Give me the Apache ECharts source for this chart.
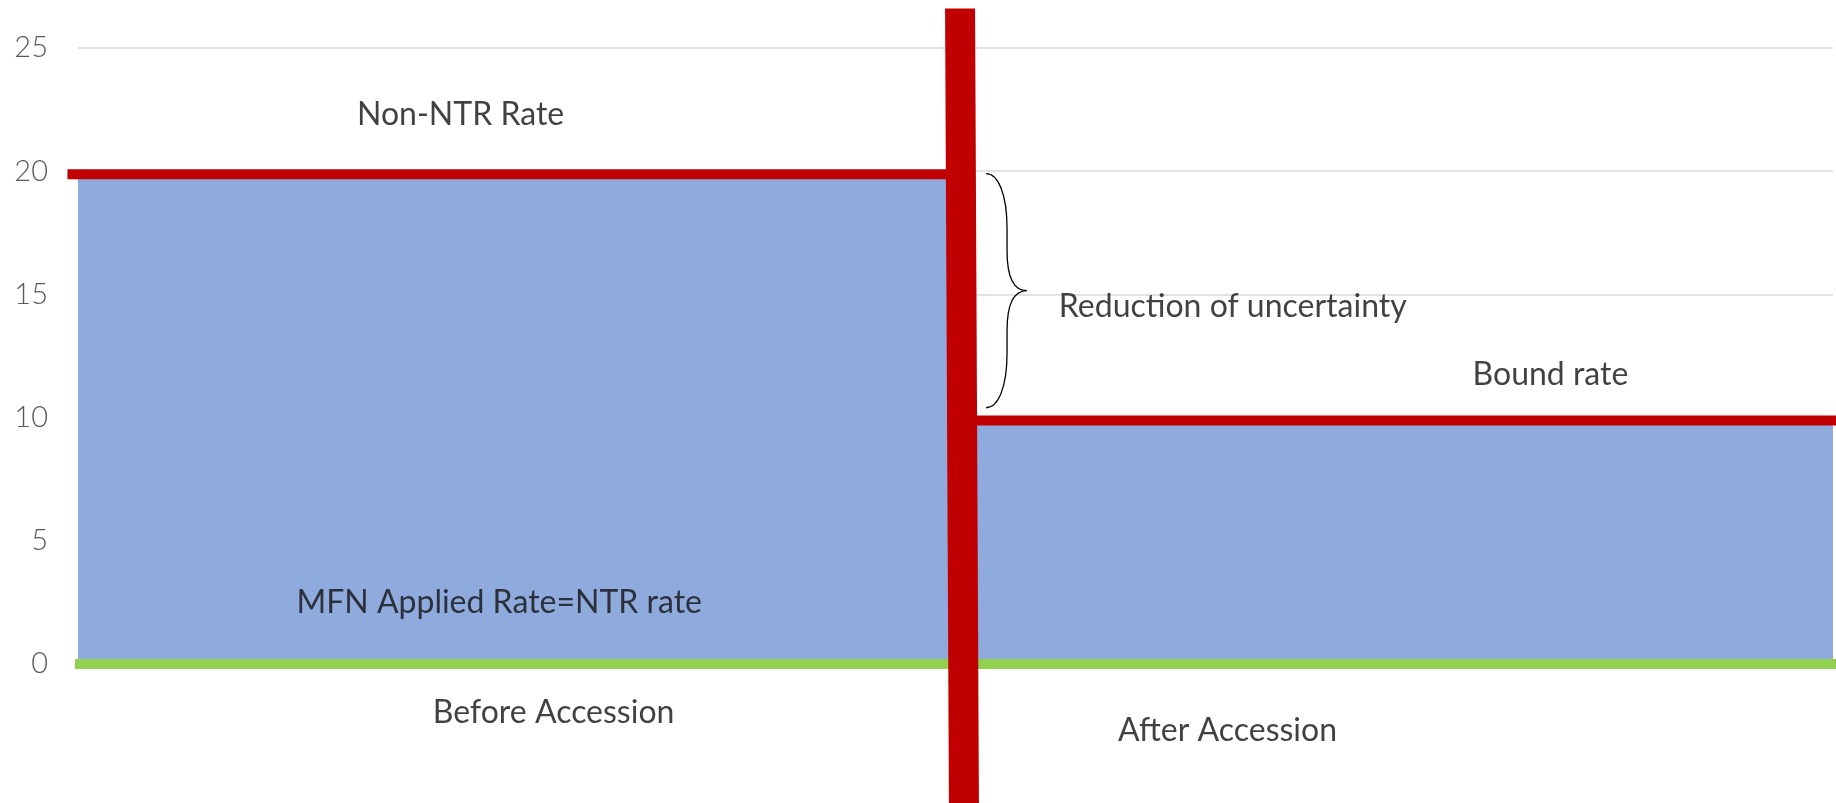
<!DOCTYPE html>
<html>
<head>
<meta charset="utf-8">
<script src="https://cdn.jsdelivr.net/npm/echarts@6/dist/echarts.min.js"></script>
<style>
html,body{margin:0;padding:0;background:#fff;}
#chart{width:1836px;height:803px;}
</style>
</head>
<body>
<div id="chart"></div>
<script>
// ---- data ----
const categories = ['Before Accession', 'After Accession'];
const appliedRate = [20, 10];          // blue columns (MFN applied rate)
const ceilingRate = [20, 10];          // red ceilings: Non-NTR rate, Bound rate
const yMin = 0, yMax = 25, yStep = 5;

// horizontal extent of each red ceiling, in fractions of the plot width
const ceilingFrom = [-0.006, 0.5];
const ceilingTo = [0.5, 1.002];

// green zero baseline extent (fractions of plot width) and level
const baseFrom = -0.0017, baseTo = 1.002, baseLevel = 0;

// divider (accession event) in data space: [x, y] at top and bottom
const dividerTop = [0.5026, 26.6];
const dividerBottom = [0.5048, -5.64];

// brace marking the reduction of uncertainty
const braceX = 0.5174;
const braceTop = 19.9;
const braceBottom = 10.4;

// text annotations
const annoText = ['Non-NTR Rate', 'MFN Applied Rate=NTR rate', 'Before Accession', 'After Accession', 'Reduction of uncertainty', 'Bound rate'];
const annoX = [0.218, 0.240, 0.271, 0.655, 0.658, 0.839];
const annoY = [22.3, 2.48, -1.99, -2.72, 14.49, 11.73];

// ---- chart ----
const FONT = 'Lato';
const chart = echarts.init(document.getElementById('chart'));
const option = {
  animation: false,
  grid: { left: 78, right: 3, top: 48, bottom: 139, containLabel: false },
  xAxis: [
    {
      type: 'category', data: categories,
      axisLine: { show: false },
      axisTick: { show: false }, axisLabel: { show: false }, splitLine: { show: false }
    },
    { type: 'value', min: 0, max: 1, show: false }
  ],
  yAxis: {
    type: 'value', min: yMin, max: yMax, interval: yStep,
    axisLine: { show: false }, axisTick: { show: false },
    axisLabel: { color: '#595959', fontSize: 29, fontFamily: FONT, fontWeight: 300, margin: 30 },
    splitLine: { lineStyle: { color: '#d9d9d9', width: 1.5 } }
  },
  series: [
    {
      type: 'bar', data: appliedRate, barCategoryGap: 0, barWidth: '100%',
      itemStyle: { color: '#8faadc' }, silent: true, z: 2
    },
    {
      type: 'custom', xAxisIndex: 1, yAxisIndex: 0, z: 4, clip: false, silent: true,
      data: ceilingRate.map((v, i) => [ceilingFrom[i], ceilingTo[i], v]),
      renderItem: function (params, api) {
        const p0 = api.coord([api.value(0), api.value(2)]);
        const p1 = api.coord([api.value(1), api.value(2)]);
        return { type: 'rect', shape: { x: p0[0], y: p0[1] - 2, width: p1[0] - p0[0], height: 10 }, style: { fill: '#c00000' } };
      }
    },
    {
      type: 'custom', xAxisIndex: 1, yAxisIndex: 0, z: 5, clip: false, silent: true,
      data: [[baseFrom, baseTo, baseLevel]],
      renderItem: function (params, api) {
        const p0 = api.coord([api.value(0), api.value(2)]);
        const p1 = api.coord([api.value(1), api.value(2)]);
        return { type: 'rect', shape: { x: p0[0], y: p0[1] - 5, width: p1[0] - p0[0], height: 10 }, style: { fill: '#92d050' } };
      }
    },
    {
      type: 'custom', xAxisIndex: 1, yAxisIndex: 0, z: 6, clip: false, silent: true,
      data: [[dividerTop[0], dividerTop[1], dividerBottom[0], dividerBottom[1]]],
      renderItem: function (params, api) {
        const t = api.coord([api.value(0), api.value(1)]);
        const b = api.coord([api.value(2), api.value(3)]);
        const h = 15;
        return { type: 'polygon', shape: { points: [[t[0] - h, t[1]], [t[0] + h, t[1]], [b[0] + h, b[1]], [b[0] - h, b[1]]] }, style: { fill: '#c00000' } };
      }
    },
    {
      type: 'custom', xAxisIndex: 1, yAxisIndex: 0, z: 6, clip: false, silent: true,
      data: [[braceX, braceTop, braceBottom]],
      renderItem: function (params, api) {
        const t = api.coord([api.value(0), api.value(1)]);
        const b = api.coord([api.value(0), api.value(2)]);
        const x = t[0], yT = t[1], yB = b[1], yM = (yT + yB) / 2;
        const d = 'M' + x + ',' + yT +
          ' C' + (x + 12) + ',' + yT + ' ' + (x + 21) + ',' + (yT + 20) + ' ' + (x + 21) + ',' + (yT + 55) +
          ' L' + (x + 21) + ',' + (yM - 40) +
          ' C' + (x + 21) + ',' + (yM - 10) + ' ' + (x + 30) + ',' + yM + ' ' + (x + 41) + ',' + yM +
          ' C' + (x + 30) + ',' + yM + ' ' + (x + 21) + ',' + (yM + 10) + ' ' + (x + 21) + ',' + (yM + 40) +
          ' L' + (x + 21) + ',' + (yB - 55) +
          ' C' + (x + 21) + ',' + (yB - 20) + ' ' + (x + 12) + ',' + yB + ' ' + x + ',' + yB;
        return { type: 'path', shape: { pathData: d }, style: { fill: 'none', stroke: '#000', lineWidth: 1.3 } };
      }
    },
    {
      type: 'scatter', xAxisIndex: 1, yAxisIndex: 0, z: 7, clip: false, silent: true,
      symbolSize: 0,
      data: annoText.map((t, i) => ({ name: t, value: [annoX[i], annoY[i]] })),
      label: { show: true, position: 'inside', formatter: '{b}', fontSize: 32, fontFamily: FONT, fontWeight: 'normal', color: '#111111' },
      emphasis: { disabled: true }
    }
  ]
};
chart.setOption(option);
</script>
</body>
</html>
